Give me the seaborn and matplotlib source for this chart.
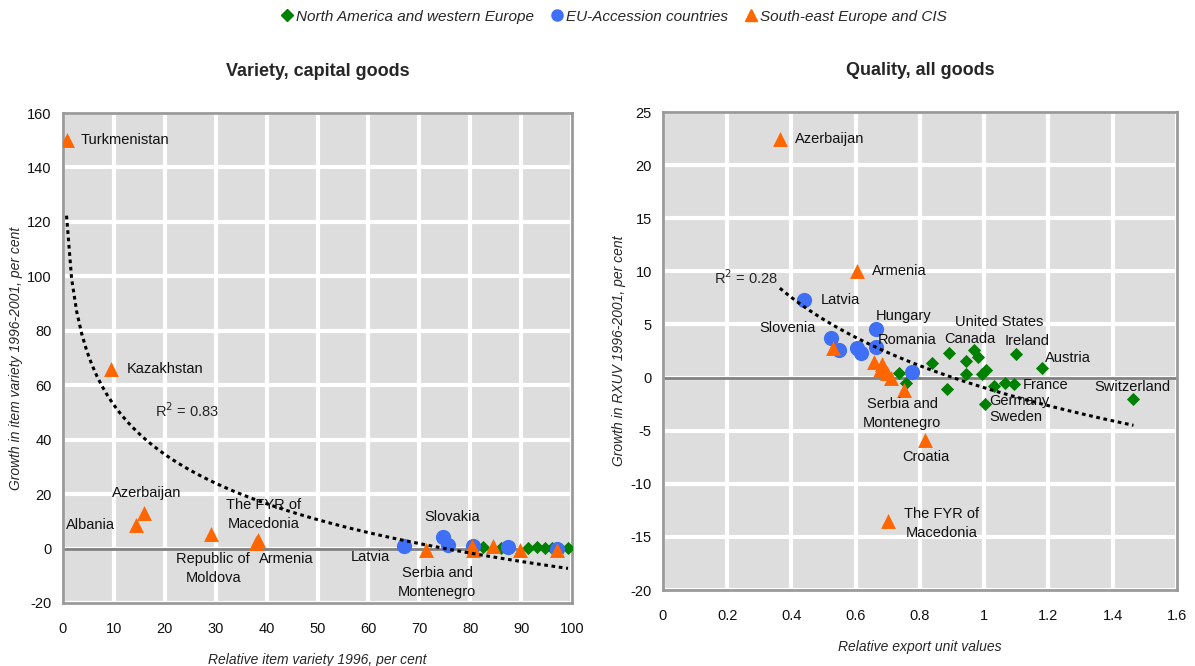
import numpy as np
import pandas as pd
import seaborn as sns
import matplotlib.pyplot as plt
from matplotlib.lines import Line2D

# ---------------- data ----------------
REGIONS = ["North America and western Europe", "EU-Accession countries", "South-east Europe and CIS"]

# Panel 1: relative item variety 1996 (x) vs growth in item variety 1996-2001 (y)
var_nawe_x = [82.5, 86.0, 91.4, 93.1, 94.7, 96.0, 99.2]
var_nawe_y = [0.7, 0.2, 0.3, 0.5, 0.3, 0.3, 0.3]
var_eu_x = [67.0, 74.7, 75.6, 80.6, 87.4, 97.0]
var_eu_y = [1.1, 4.4, 1.2, 0.8, 0.4, 0.0]
var_see_x = [0.7, 9.4, 14.3, 15.9, 29.1, 38.3, 38.0, 71.3, 80.3, 80.6, 84.5, 89.8, 97.0]
var_see_y = [150.0, 66.0, 8.5, 13.0, 5.5, 3.0, 2.2, -0.7, 0.9, -0.6, 0.8, -0.5, -0.7]
var_r2 = "0.83"

# Panel 2: relative export unit values (x) vs growth in RXUV 1996-2001 (y)
qual_nawe_x = [0.734, 0.758, 0.837, 0.890, 0.883, 0.942, 0.944, 0.967, 0.980, 0.992,
               1.007, 1.004, 1.030, 1.064, 1.092, 1.098, 1.181, 1.465]
qual_nawe_y = [0.4, -0.5, 1.4, 2.3, -1.1, 1.6, 0.3, 2.6, 1.9, 0.3,
               0.7, -2.5, -0.8, -0.5, -0.6, 2.2, 0.9, -2.0]
qual_eu_x = [0.439, 0.523, 0.547, 0.603, 0.616, 0.663, 0.663, 0.775]
qual_eu_y = [7.3, 3.7, 2.6, 2.8, 2.3, 4.6, 2.9, 0.5]
qual_see_x = [0.364, 0.603, 0.529, 0.656, 0.682, 0.675, 0.697, 0.709, 0.750, 0.815, 0.700]
qual_see_y = [22.5, 10.0, 2.8, 1.5, 1.3, 0.7, 0.4, 0.0, -1.2, -5.9, -13.5]
qual_r2 = "0.28"

# country labels: (text, x, y, ha) in data coordinates
var_labels = [
    ("Turkmenistan", 3.5, 150.0, "left"),
    ("Kazakhstan", 12.5, 66.0, "left"),
    ("Azerbaijan", 16.5, 20.5, "center"),
    ("Albania", 0.5, 8.5, "left"),
    ("Republic of\nMoldova", 29.5, -7.5, "center"),
    ("The FYR of\nMacedonia", 39.5, 12.5, "center"),
    ("Armenia", 38.5, -4.0, "left"),
    ("Latvia", 56.5, -3.0, "left"),
    ("Slovakia", 71.0, 11.5, "left"),
    ("Serbia and\nMontenegro", 73.5, -12.5, "center"),
]
qual_labels = [
    ("Azerbaijan", 0.41, 22.5, "left"),
    ("Armenia", 0.65, 10.0, "left"),
    ("Latvia", 0.49, 7.3, "left"),
    ("Slovenia", 0.30, 4.7, "left"),
    ("Hungary", 0.663, 5.8, "left"),
    ("Romania", 0.67, 3.5, "left"),
    ("United States", 0.91, 5.2, "left"),
    ("Canada", 0.875, 3.6, "left"),
    ("Ireland", 1.065, 3.4, "left"),
    ("Austria", 1.19, 1.8, "left"),
    ("France", 1.12, -0.7, "left"),
    ("Germany", 1.017, -2.2, "left"),
    ("Sweden", 1.017, -3.7, "left"),
    ("Switzerland", 1.344, -0.9, "left"),
    ("Serbia and\nMontenegro", 0.745, -3.4, "center"),
    ("Croatia", 0.82, -7.5, "center"),
    ("The FYR of\nMacedonia", 0.868, -13.7, "center"),
]


def frame(xs, ys):
    parts = []
    for region, x, y in zip(REGIONS, xs, ys):
        parts.append(pd.DataFrame({"x": x, "y": y, "region": region}))
    return pd.concat(parts, ignore_index=True)


var_df = frame([var_nawe_x, var_eu_x, var_see_x], [var_nawe_y, var_eu_y, var_see_y])
qual_df = frame([qual_nawe_x, qual_eu_x, qual_see_x], [qual_nawe_y, qual_eu_y, qual_see_y])

# ---------------- style ----------------
sns.set_style("whitegrid", {
    "axes.facecolor": "#DDDDDD",
    "grid.color": "white",
    "axes.edgecolor": "#9A9A9A",
})
plt.rcParams["font.family"] = ["Liberation Sans", "DejaVu Sans"]

COLORS = {REGIONS[0]: "#008000", REGIONS[1]: "#3F6FF5", REGIONS[2]: "#FF6600"}
MARKERS = {REGIONS[0]: "D", REGIONS[1]: "o", REGIONS[2]: "^"}
SIZES = {REGIONS[0]: 45, REGIONS[1]: 120, REGIONS[2]: 115}

fig = plt.figure(figsize=(11.95, 6.66), dpi=100)
ax1 = fig.add_axes([0.0527, 0.0946, 0.426, 0.7357])
ax2 = fig.add_axes([0.5548, 0.1141, 0.430, 0.7177])


def draw_panel(ax, df, labels, title, xlabel, ylabel, xlim, ylim, xstep, ystep,
               r2, r2_pos, xfmt):
    ax.set_axisbelow(True)
    ax.grid(True, color="white", linewidth=3)
    ax.axhline(0, color="#808080", linewidth=2, zorder=1)
    for region in REGIONS:
        sub = df[df["region"] == region]
        sns.scatterplot(data=sub, x="x", y="y", ax=ax, color=COLORS[region],
                        marker=MARKERS[region], s=SIZES[region], linewidth=0,
                        zorder=3, legend=False)
    sns.regplot(data=df, x="x", y="y", ax=ax, logx=True, scatter=False, ci=None,
                line_kws={"color": "black", "linestyle": (0, (1.2, 1.2)),
                          "linewidth": 2.2, "zorder": 4})
    for text, x, y, ha in labels:
        ax.text(x, y, text, ha=ha, va="center", fontsize=10.5, color="#111111",
                linespacing=1.45, zorder=5)
    ax.text(r2_pos[0], r2_pos[1], "R$^{2}$ = " + r2, ha="left", va="center",
            fontsize=10.5, zorder=5)
    ax.set_xlim(*xlim)
    ax.set_ylim(*ylim)
    ax.set_xticks(np.arange(xlim[0], xlim[1] + xstep / 2, xstep))
    ax.set_yticks(np.arange(ylim[0], ylim[1] + ystep / 2, ystep))
    ax.xaxis.set_major_formatter(plt.FuncFormatter(xfmt))
    ax.yaxis.set_major_formatter(plt.FuncFormatter(lambda v, p: f"{v:g}"))
    ax.tick_params(axis="both", length=0, labelsize=10.5, colors="#111111")
    ax.tick_params(axis="x", pad=14)
    ax.tick_params(axis="y", pad=8)
    ax.set_title(title, fontsize=13, fontweight="bold", pad=27)
    ax.set_xlabel(xlabel, fontsize=10, style="italic", labelpad=12)
    ax.set_ylabel(ylabel, fontsize=10, style="italic", labelpad=3)
    for sp in ax.spines.values():
        sp.set_color("#9A9A9A")
        sp.set_linewidth(2)


draw_panel(ax1, var_df, var_labels, "Variety, capital goods",
           "Relative item variety 1996, per cent",
           "Growth in item variety 1996-2001, per cent",
           (0, 100), (-20, 160), 10, 20, var_r2, (18.0, 50.5),
           lambda v, p: f"{v:g}")
draw_panel(ax2, qual_df, qual_labels, "Quality, all goods",
           "Relative export unit values",
           "Growth in RXUV 1996-2001, per cent",
           (0, 1.6), (-20, 25), 0.2, 5, qual_r2, (0.16, 9.4),
           lambda v, p: f"{v:g}")

# shared legend along the top
handles = [Line2D([], [], linestyle="none", marker=MARKERS[r], color=COLORS[r],
                  markersize=8 if r != REGIONS[0] else 6.5) for r in REGIONS]
leg = fig.legend(handles, REGIONS, loc="center", bbox_to_anchor=(0.513, 0.975),
                 ncol=3, frameon=False, handletextpad=0.1, columnspacing=1.0,
                 handlelength=1.0, prop={"size": 11, "style": "italic"})

fig.savefig("out.png", dpi=100)
